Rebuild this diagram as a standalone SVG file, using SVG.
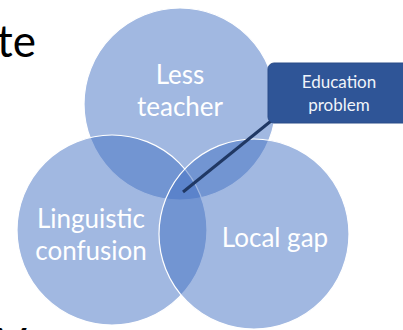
<svg xmlns="http://www.w3.org/2000/svg" width="403" height="330" viewBox="0 0 403 330">
<style>
.c{fill:#4472C4;fill-opacity:0.5;stroke:#FFFFFF;stroke-width:1.2}
.lbl{font-family:Lato,"Open Sans",sans-serif;font-size:26px;fill:#FFFFFF;text-anchor:middle}
.bg{font-family:Lato,"Open Sans",sans-serif;font-size:44px;fill:#000000}
.cl{font-family:Lato,"Open Sans",sans-serif;font-size:17px;fill:#F0F4FA;text-anchor:middle}
</style>
<rect width="403" height="330" fill="#FFFFFF"/>
<text class="bg" x="36" y="57" text-anchor="end">ate</text>
<text class="bg" x="-3" y="360">V</text>
<g id="node-less-teacher">
<circle class="c" cx="180" cy="104" r="96"/>
</g>
<g id="node-linguistic">
<circle class="c" cx="112" cy="230" r="95"/>
</g>
<g id="node-local-gap">
<circle class="c" cx="254" cy="234" r="95"/>
</g>
<g id="labels">
<text class="lbl" x="180" y="84">Less</text>
<text class="lbl" x="180" y="116">teacher</text>
<text class="lbl" x="91" y="228">Linguistic</text>
<text class="lbl" x="91" y="260">confusion</text>
<text class="lbl" x="275" y="247">Local gap</text>
</g>
<g id="connectors">
<line x1="276" y1="117" x2="183" y2="192" stroke="#203864" stroke-width="3"/>
</g>
<g id="node-education-problem">
<rect x="268" y="63" width="142" height="60" rx="6" fill="#2F5597" stroke="#2A4C88" stroke-width="1"/>
<text class="cl" x="339" y="88">Education</text>
<text class="cl" x="339" y="111">problem</text>
</g>
</svg>
